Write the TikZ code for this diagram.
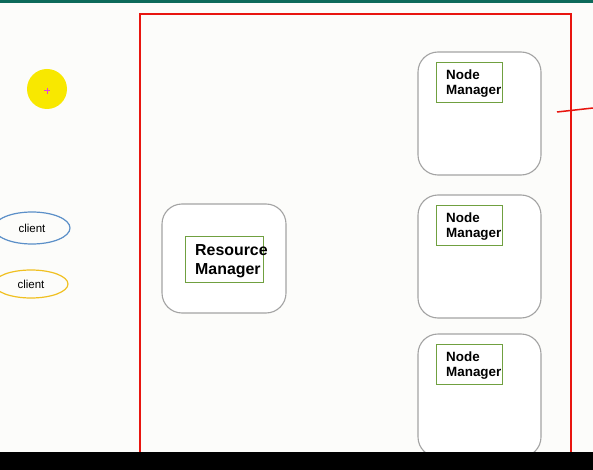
\documentclass[tikz,border=0pt]{standalone}
\usepackage{fontspec}
\setmainfont{Liberation Sans}
\usetikzlibrary{shapes.geometric}
\definecolor{bg}{HTML}{FCFCFA}
\definecolor{teal}{HTML}{0D6A5A}
\definecolor{redline}{HTML}{E8150F}
\definecolor{boxgrey}{HTML}{A3A3A3}
\definecolor{nmgreen}{HTML}{70A040}
\definecolor{blueell}{HTML}{5B8FC8}
\definecolor{yellowell}{HTML}{F0C020}
\definecolor{dot}{HTML}{F8E800}
\definecolor{plus}{HTML}{E040E0}
\tikzset{
  outerbox/.style={draw=boxgrey, line width=1.1pt, rounded corners=20pt, fill=white},
  innerbox/.style={draw=nmgreen, line width=0.9pt},
  lbl/.style={font=\bfseries, align=left, inner sep=0pt, anchor=north west},
  clientell/.style={draw, ellipse, line width=1.2pt, inner sep=0pt, font=\fontsize{11.5}{13}\selectfont}
}
\begin{document}
\begin{tikzpicture}[x=1pt,y=-1pt]
\useasboundingbox (0,0) rectangle (593,470);
\fill[bg] (0,0) rectangle (593,470);
\fill[teal] (0,0) rectangle (593,3);
% yellow pointer
\fill[dot] (47,89) circle (20);
\draw[plus, line width=1pt] (44,91) -- (50,91) (47,88) -- (47,94);
% clients
\node[clientell, draw=blueell, minimum width=76pt, minimum height=32pt] (c1) at (32,228) {client};
\node[clientell, draw=yellowell, minimum width=74pt, minimum height=28pt] (c2) at (31,284) {client};
% red frame
\draw[redline, line width=2pt] (140,470) -- (140,14) -- (571,14) -- (571,470);
\coordinate (ra) at (557,112);
\coordinate (rb) at (593,108);
\draw[redline, line width=1.5pt] (ra) -- (rb);
% resource manager
\draw[outerbox] (162,204) rectangle (286,313);
\draw[innerbox] (185,236) rectangle (263,282);
\node[lbl, font=\bfseries\fontsize{15.9}{19}\selectfont] (rm) at (195,244.5) {Resource\\Manager};
% node managers
\foreach \y/\n in {52/nm1,195/nm2,334/nm3}{
  \draw[outerbox] (418,\y) rectangle (541,\y+123);
  \draw[innerbox] (436,\y+10) rectangle (502,\y+50);
  \node[lbl, font=\bfseries\fontsize{13.4}{15.5}\selectfont] (\n) at (446,\y+17.5) {Node\\Manager};
}
\fill[black] (0,452) rectangle (593,470);
\end{tikzpicture}
\end{document}
